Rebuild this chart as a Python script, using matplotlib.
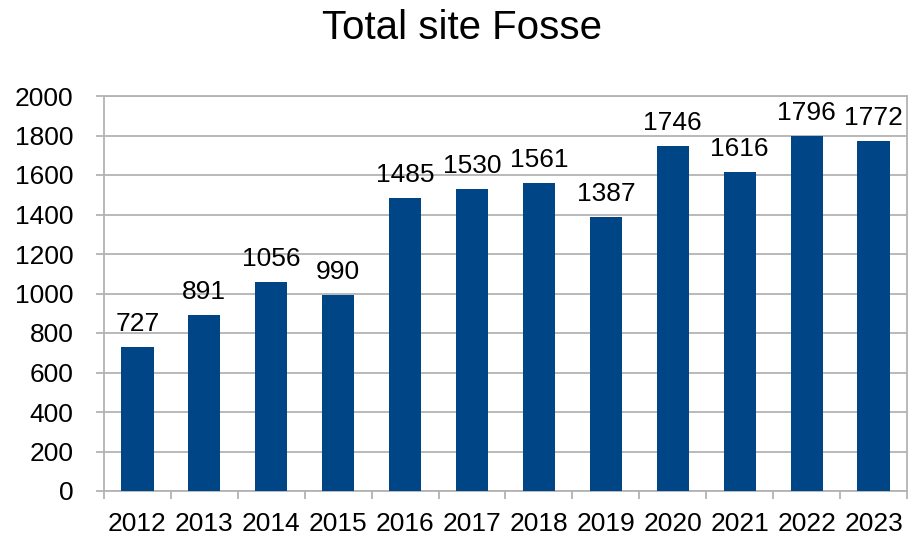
import matplotlib
matplotlib.use("Agg")
import matplotlib.pyplot as plt
import numpy as np

years = ["2012", "2013", "2014", "2015", "2016", "2017", "2018", "2019", "2020", "2021", "2022", "2023"]
values = [727, 891, 1056, 990, 1485, 1530, 1561, 1387, 1746, 1616, 1796, 1772]
yticks = [0, 200, 400, 600, 800, 1000, 1200, 1400, 1600, 1800, 2000]

plt.rcParams['font.family'] = ['Liberation Sans', 'DejaVu Sans']

fig = plt.figure(figsize=(9.24, 5.41), dpi=100)
ax = fig.add_axes([104/924, 50/541, (907-104)/924, (491-96)/541])

x = np.arange(len(years))
bars = ax.bar(x, values, width=0.48, color='#004586', zorder=3)
for xi, v in zip(x, values):
    ax.annotate(str(v), (xi, v), xytext=(0, 8), textcoords='offset points',
                ha='center', va='bottom', fontsize=19, color='black')

ax.set_xlim(-0.5, len(years) - 0.5)
ax.set_ylim(0, 2000)
ax.set_yticks(yticks)
ax.set_yticklabels([str(t) for t in yticks], fontsize=19)
ax.yaxis.grid(True, color='#b3b3b3', linewidth=1.3, zorder=0)
ax.tick_params(axis='y', length=6, width=1.3, color='#b3b3b3', pad=16)

ax.set_xticks(np.arange(-0.5, len(years), 1.0))
ax.set_xticklabels([])
ax.set_xticks(x, minor=True)
ax.set_xticklabels(years, minor=True, fontsize=19)
ax.tick_params(axis='x', which='major', length=6, width=1.3, color='#b3b3b3')
ax.tick_params(axis='x', which='minor', length=0, pad=15)

for s in ax.spines.values():
    s.set_color('#b3b3b3')
    s.set_linewidth(1.3)

fig.suptitle("Total site Fosse", fontsize=29, y=0.983)
fig.savefig("out.png", dpi=100)
